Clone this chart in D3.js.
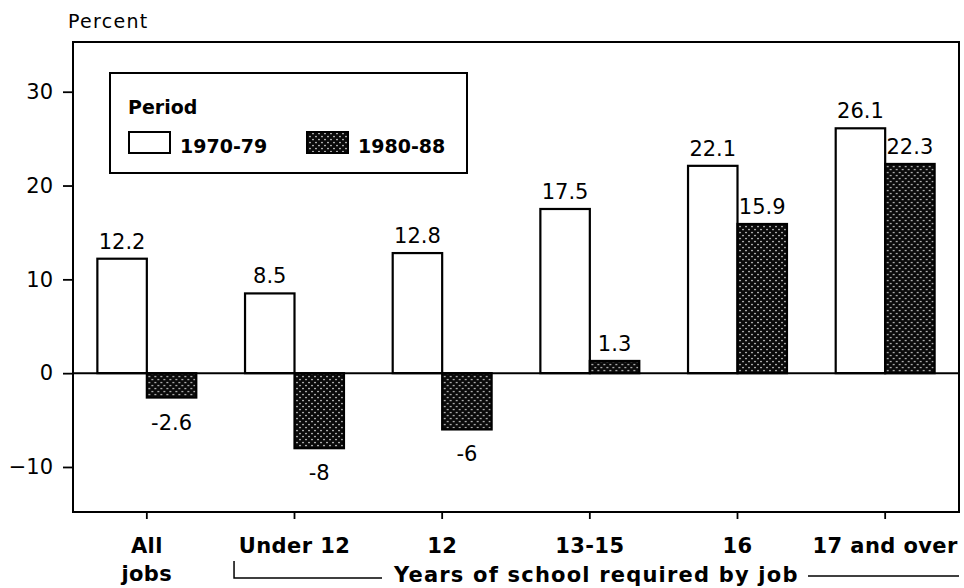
<!DOCTYPE html>
<html>
<head>
<meta charset="utf-8">
<script src="https://cdn.jsdelivr.net/npm/d3@7"></script>
<style>
  body { margin: 0; background: #fff; }
  svg { display: block; font-family: "DejaVu Sans", sans-serif; }
</style>
</head>
<body>
<div id="chart"></div>
<script>
// Werte
const categories = ["All jobs", "Under 12", "12", "13-15", "16", "17 and over"];
const categoryLines = [["All", "jobs"], ["Under 12"], ["12"], ["13-15"], ["16"], ["17 and over"]];
const series = ["1970-79", "1980-88"];
const values7079 = [12.2, 8.5, 12.8, 17.5, 22.1, 26.1];
const values8088 = [-2.6, -8, -6, 1.3, 15.9, 22.3];
const yTicks = [-10, 0, 10, 20, 30];

const width = 964, height = 588;
const plotLeft = 73, plotRight = 959, plotTop = 42, plotBottom = 512;

const svg = d3.select("#chart").append("svg")
    .attr("width", width)
    .attr("height", height);

// Punktraster fuer die dunklen Balken
const defs = svg.append("defs");
const pat = defs.append("pattern")
    .attr("id", "stipple")
    .attr("width", 6)
    .attr("height", 6)
    .attr("patternUnits", "userSpaceOnUse");
pat.append("rect").attr("width", 6).attr("height", 6).attr("fill", "#0a0a0a");
pat.append("circle").attr("cx", 1).attr("cy", 1.5).attr("r", 0.85).attr("fill", "#ddd");
pat.append("circle").attr("cx", 4).attr("cy", 4.5).attr("r", 0.85).attr("fill", "#ddd");

// Skalen
const x0 = d3.scaleBand()
    .domain(categories)
    .range([plotLeft, plotRight])
    .paddingInner(0.33)
    .paddingOuter(0.165);

const x1 = d3.scaleBand()
    .domain(series)
    .range([0, x0.bandwidth()]);

const y = d3.scaleLinear()
    .domain([-14.8, 35.3])
    .range([plotBottom, plotTop]);

const rows = categories.map((c, i) => ({
    cat: c,
    vals: [
        { key: series[0], value: values7079[i] },
        { key: series[1], value: values8088[i] }
    ]
}));

// Achsen
const yAxis = svg.append("g")
    .attr("transform", `translate(${plotLeft},0)`)
    .call(d3.axisLeft(y).tickValues(yTicks).tickSize(10).tickPadding(10));
yAxis.select(".domain").remove();
yAxis.selectAll("line").attr("stroke", "#000").attr("stroke-width", 1.8);
yAxis.selectAll("text")
    .attr("font-size", 21)
    .attr("font-family", "DejaVu Sans, sans-serif")
    .attr("fill", "#000");

const xAxis = svg.append("g")
    .attr("transform", `translate(0,${plotBottom})`)
    .call(d3.axisBottom(x0).tickSize(7).tickFormat(""));
xAxis.select(".domain").remove();
xAxis.selectAll("line").attr("stroke", "#000").attr("stroke-width", 1.8);

// Kategorien (fett)
const catLabels = svg.append("g");
categories.forEach((c, i) => {
    categoryLines[i].forEach((line, j) => {
        catLabels.append("text")
            .attr("x", x0(c) + x0.bandwidth() / 2)
            .attr("y", 553 + j * 28)
            .attr("text-anchor", "middle")
            .attr("font-size", 21)
            .attr("font-weight", "bold")
            .attr("letter-spacing", 0.4)
            .text(line);
    });
});

// Balken
const groups = svg.append("g").selectAll("g")
    .data(rows)
    .join("g")
    .attr("transform", d => `translate(${x0(d.cat)},0)`);

groups.selectAll("rect")
    .data(d => d.vals)
    .join("rect")
    .attr("x", d => x1(d.key))
    .attr("y", d => y(Math.max(0, d.value)))
    .attr("width", x1.bandwidth())
    .attr("height", d => Math.abs(y(d.value) - y(0)))
    .attr("fill", d => d.key === series[0] ? "#fff" : "url(#stipple)")
    .attr("stroke", "#000")
    .attr("stroke-width", 2.2);

groups.selectAll("text")
    .data(d => d.vals)
    .join("text")
    .attr("x", d => x1(d.key) + x1.bandwidth() / 2)
    .attr("y", d => d.value >= 0 ? y(d.value) - 10 : y(d.value) + 32)
    .attr("text-anchor", "middle")
    .attr("font-size", 21)
    .text(d => String(d.value));

// Rahmen und Nulllinie
svg.append("rect")
    .attr("x", plotLeft).attr("y", plotTop)
    .attr("width", plotRight - plotLeft).attr("height", plotBottom - plotTop)
    .attr("fill", "none")
    .attr("stroke", "#000")
    .attr("stroke-width", 2);

svg.append("line")
    .attr("x1", plotLeft).attr("x2", plotRight)
    .attr("y1", y(0)).attr("y2", y(0))
    .attr("stroke", "#000")
    .attr("stroke-width", 2);

svg.append("text")
    .attr("x", 68).attr("y", 28)
    .attr("font-size", 19)
    .attr("letter-spacing", 1.3)
    .text("Percent");

// Legende
const legend = svg.append("g");
legend.append("rect")
    .attr("x", 110).attr("y", 73)
    .attr("width", 357).attr("height", 100)
    .attr("fill", "#fff")
    .attr("stroke", "#000")
    .attr("stroke-width", 2);
legend.append("text")
    .attr("x", 128).attr("y", 114)
    .attr("font-size", 19)
    .attr("font-weight", "bold")
    .text("Period");

const legendX = [129, 307];
series.forEach((s, i) => {
    legend.append("rect")
        .attr("x", legendX[i]).attr("y", 132)
        .attr("width", 41).attr("height", 21)
        .attr("fill", i === 0 ? "#fff" : "url(#stipple)")
        .attr("stroke", "#000")
        .attr("stroke-width", 2);
    legend.append("text")
        .attr("x", legendX[i] + 51).attr("y", 153)
        .attr("font-size", 19)
        .attr("font-weight", "bold")
        .text(s);
});

// Klammer "Years of school required by job"
const xUnder = x0("Under 12") - 11;
const bracketY = 578;
svg.append("path")
    .attr("d", `M${xUnder},561 V${bracketY} H382`)
    .attr("fill", "none")
    .attr("stroke", "#000")
    .attr("stroke-width", 1.5);
svg.append("text")
    .attr("x", 394).attr("y", 582)
    .attr("font-size", 21)
    .attr("font-weight", "bold")
    .attr("letter-spacing", 1.2)
    .text("Years of school required by job");
svg.append("line")
    .attr("x1", 808).attr("x2", plotRight)
    .attr("y1", 576).attr("y2", 576)
    .attr("stroke", "#000")
    .attr("stroke-width", 1.5);
</script>
</body>
</html>
